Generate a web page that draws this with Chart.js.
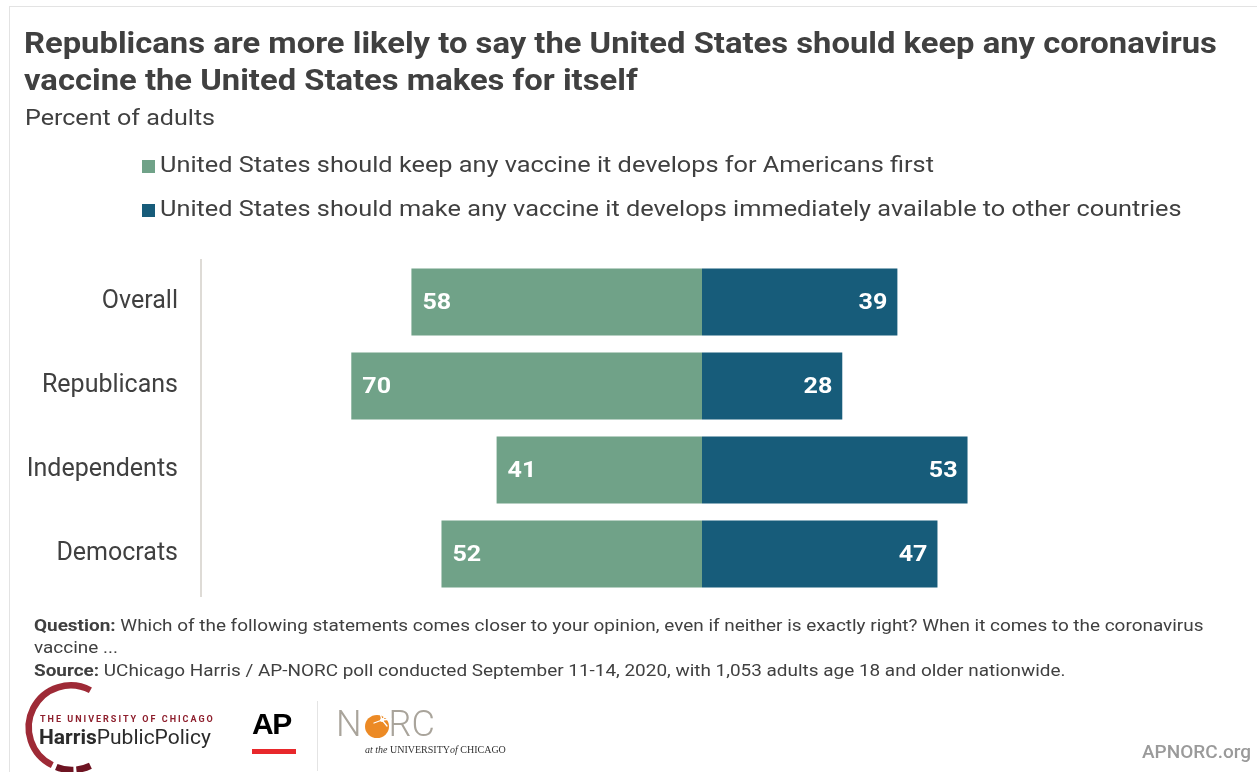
<!DOCTYPE html>
<html>
<head>
<meta charset="utf-8">
<script src="https://cdn.jsdelivr.net/npm/chart.js@4.4.1/dist/chart.umd.min.js"></script>
<style>
  html, body { margin:0; padding:0; background:#fff; }
  body { width:1257px; height:772px; position:relative; overflow:hidden; font-family: Roboto, "Noto Sans", sans-serif; }
  #frame { position:absolute; left:9px; top:6px; width:1300px; height:900px; border-top:1px solid #e3e3e3; border-left:1px solid #e3e3e3; }
  #c { position:absolute; left:0; top:0; }
  .t { position:absolute; white-space:nowrap; }
  .sx { transform-origin: 0 50%; }
  #title { left:24px; top:25px; font-size:29px; line-height:37.4px; font-weight:700; color:#404040; transform:scaleX(1.13); }
  #sub { left:25px; top:105px; font-size:22px; line-height:26px; color:#404040; transform:scaleX(1.14); }
  .leg { left:142px; font-size:22px; line-height:26px; color:#404040; }
  .leg .lt { display:inline-block; transform:scaleX(1.15); transform-origin:0 50%; }
  .sw { display:inline-block; width:13px; height:13px; margin-right:5px; vertical-align:-1px; }
  .foot { left:34px; font-size:16px; line-height:22px; color:#404040; transform:scaleX(1.183); }
  .foot b { font-weight:700; }
</style>
</head>
<body>
<div id="frame"></div>
<canvas id="c" width="1257" height="772"></canvas>
<div id="title" class="t sx">Republicans are more likely to say the United States should keep any coronavirus<br>vaccine the United States makes for itself</div>
<div id="sub" class="t sx">Percent of adults</div>
<div id="leg0" class="t leg" style="top:152px"><span class="sw" id="sw0"></span><span class="lt" id="lt0"></span></div>
<div id="leg1" class="t leg" style="top:196px"><span class="sw" id="sw1"></span><span class="lt" id="lt1"></span></div>
<div class="t foot sx" style="top:615px"><b>Question:</b> Which of the following statements comes closer to your opinion, even if neither is exactly right? When it comes to the coronavirus</div>
<div class="t foot sx" style="top:637px">vaccine ...</div>
<div class="t foot sx" style="top:660px"><b>Source:</b> UChicago Harris / AP-NORC poll conducted September 11-14, 2020, with 1,053 adults age 18 and older nationwide.</div>

<!-- Harris logo -->
<svg class="t" style="left:0;top:670px" width="240" height="102" viewBox="0 670 240 102">
  <path id="harc" fill="none" stroke="#9e2a36" stroke-width="6.5"/>
  <path id="harc2" fill="none" stroke="#6e1422" stroke-width="6.5"/>
  <path id="harc3" fill="none" stroke="#6e1422" stroke-width="6.5"/>
</svg>
<div class="t" style="left:40px;top:714px;font-size:9px;line-height:11px;font-weight:700;color:#8e1f2d;letter-spacing:2.0px;">THE UNIVERSITY OF CHICAGO</div>
<div class="t" style="left:39px;top:724px;font-size:21px;line-height:26px;color:#2b2b2b;letter-spacing:0px;"><span style="font-weight:700">Harris</span>PublicPolicy</div>

<!-- AP logo -->
<div class="t" style="left:252px;top:707px;font-size:30px;line-height:34px;font-weight:900;color:#000;letter-spacing:-1.5px;font-family:'Liberation Sans',Arial,sans-serif;">AP</div>
<div class="t" style="left:252px;top:749px;width:44px;height:5px;background:#e8282b;"></div>
<div class="t" style="left:317px;top:701px;width:1px;height:70px;background:#e4e4e4;"></div>

<!-- NORC logo -->
<div class="t" style="left:336px;top:704px;font-size:36px;line-height:40px;font-weight:300;color:#a9a49b;">N<span style="display:inline-block;width:27px;"></span>RC</div>
<svg class="t" style="left:360px;top:710px" width="36" height="34" viewBox="0 0 36 34">
  <ellipse cx="17" cy="16.5" rx="12" ry="11.5" fill="#ec8a25"/>
  <g stroke="#fff" stroke-width="1.3" stroke-linecap="round">
    <line x1="22" y1="10" x2="29" y2="2"/>
    <line x1="22" y1="10" x2="14" y2="13"/>
    <line x1="22" y1="10" x2="27" y2="16"/>
    <line x1="22" y1="10" x2="20" y2="3"/>
    <line x1="22" y1="10" x2="31" y2="9"/>
  </g>
  <circle cx="22" cy="10" r="2" fill="#fff"/>
</svg>
<div class="t" style="left:365px;top:744px;font-size:10px;line-height:12px;color:#333;font-family:'Liberation Serif','DejaVu Serif',serif;"><i>at the</i> UNIVERSITY<i>of</i> CHICAGO</div>

<div class="t" style="left:1142px;top:741px;font-size:19px;line-height:22px;font-weight:500;color:#9a9a9a;">APNORC.org</div>

<script>
// ---- data ----
const categories = ['Overall', 'Republicans', 'Independents', 'Democrats'];
const seriesNames = [
  'United States should keep any vaccine it develops for Americans first',
  'United States should make any vaccine it develops immediately available to other countries'
];
const keepFirst = [58, 70, 41, 52];
const shareNow = [39, 28, 53, 47];
const seriesColors = ['#70a288', '#175c7a'];

// legend text
document.getElementById('lt0').textContent = seriesNames[0];
document.getElementById('lt1').textContent = seriesNames[1];
document.getElementById('sw0').style.background = seriesColors[0];
document.getElementById('sw1').style.background = seriesColors[1];

// Harris arc
(function(){
  const cx = 72, cy = 728, r = 42;
  function arc(a0, a1) {
    const p = a => [cx + r*Math.cos(a*Math.PI/180), cy + r*Math.sin(a*Math.PI/180)];
    const [x0,y0] = p(a0), [x1,y1] = p(a1);
    const large = Math.abs(a1-a0) > 180 ? 1 : 0;
    return `M${x0} ${y0} A${r} ${r} 0 ${large} 0 ${x1} ${y1}`;
  }
  document.getElementById('harc').setAttribute('d', arc(-64, 118));
  document.getElementById('harc2').setAttribute('d', arc(112, 88));
  document.getElementById('harc3').setAttribute('d', arc(84, 64));
})();

const valueLabels = {
  id: 'valueLabels',
  afterDatasetsDraw(chart) {
    const ctx = chart.ctx;
    const sx = 1.14;
    ctx.save();
    ctx.font = '700 22px Roboto, sans-serif';
    ctx.fillStyle = '#ffffff';
    ctx.textBaseline = 'middle';
    const raw = [keepFirst, shareNow];
    chart.data.datasets.forEach((ds, di) => {
      const meta = chart.getDatasetMeta(di);
      meta.data.forEach((bar, i) => {
        const txt = String(raw[di][i]);
        ctx.save();
        if (di === 0) {
          ctx.translate(bar.x + 11, bar.y + 1); ctx.scale(sx, 1);
          ctx.textAlign = 'left'; ctx.fillText(txt, 0, 0);
        } else {
          ctx.translate(bar.x - 10, bar.y + 1); ctx.scale(sx, 1);
          ctx.textAlign = 'right'; ctx.fillText(txt, 0, 0);
        }
        ctx.restore();
      });
    });
    ctx.restore();
  }
};

new Chart(document.getElementById('c'), {
  type: 'bar',
  data: {
    labels: categories,
    datasets: [
      { label: seriesNames[0], data: keepFirst.map(v => -v), backgroundColor: seriesColors[0], borderWidth: 0 },
      { label: seriesNames[1], data: shareNow, backgroundColor: seriesColors[1], borderWidth: 0 }
    ]
  },
  options: {
    indexAxis: 'y',
    responsive: false,
    animation: false,
    devicePixelRatio: 1,
    categoryPercentage: 0.8,
    barPercentage: 1.0,
    layout: { padding: { top: 260, bottom: 176, left: 0, right: 54 } },
    plugins: { legend: { display: false }, tooltip: { enabled: false } },
    scales: {
      x: { stacked: true, min: -100, max: 100, display: false },
      y: {
        stacked: true,
        grid: { display: false, drawTicks: false },
        border: { display: true, color: '#dedbd6', width: 2 },
        ticks: { color: '#404040', font: { family: 'Roboto', size: 25 }, padding: 23 },
        afterFit(scale) { scale.width = 201; }
      }
    }
  },
  plugins: [valueLabels]
});
</script>
</body>
</html>
